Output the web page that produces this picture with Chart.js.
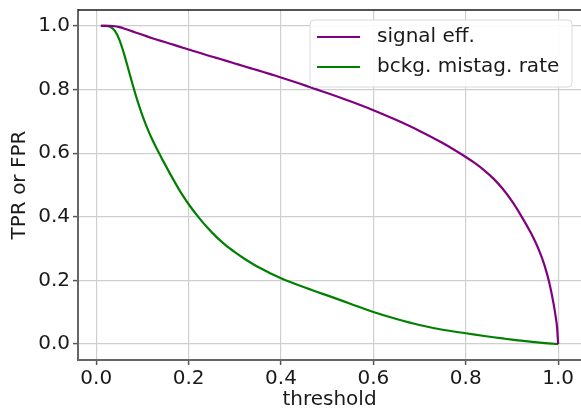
<!DOCTYPE html>
<html>
<head>
<meta charset="utf-8">
<script src="https://cdn.jsdelivr.net/npm/chart.js@4/dist/chart.umd.min.js"></script>
<style>
  html, body { margin: 0; padding: 0; background: #ffffff; overflow: hidden; }
  #wrap { width: 581px; height: 412px; }
</style>
</head>
<body>
<div id="wrap"><canvas id="c" width="581" height="412"></canvas></div>
<script>
// Classifier threshold scan
const thresholds = [0.01,0.02,0.03,0.04,0.05,0.06,0.07,0.08,0.09,0.10,0.11,0.12,0.13,0.14,0.15,0.16,0.17,0.18,0.19,0.20,
  0.22,0.24,0.26,0.28,0.30,0.32,0.34,0.36,0.38,0.40,0.42,0.44,0.46,0.48,0.50,
  0.55,0.60,0.65,0.70,0.75,0.80,0.82,0.84,0.86,0.88,0.90,0.92,0.94,0.95,0.96,0.97,0.98,0.99,0.995,0.998,1.0];

// True positive rate (signal efficiency)
const signalEff = [1.0,1.0,1.0,0.999,0.996,0.992,0.987,0.982,0.977,0.972,0.967,0.962,0.9575,0.953,0.9485,0.944,0.9395,0.935,0.9305,0.926,
  0.917,0.908,0.8995,0.891,0.882,0.873,0.8645,0.856,0.847,0.838,0.8285,0.819,0.809,0.799,0.789,
  0.763,0.735,0.704,0.670,0.632,0.588,0.5685,0.546,0.520,0.488,0.449,0.403,0.352,0.323,0.290,0.250,0.198,0.128,0.083,0.048,0.0];

// False positive rate (background mistag rate)
const bckgMistag = [1.0,1.0,0.997,0.985,0.957,0.913,0.8615,0.8095,0.761,0.718,0.6805,0.647,0.617,0.589,0.5617,0.535,0.509,0.484,0.461,0.4395,
  0.4015,0.367,0.337,0.311,0.289,0.269,0.251,0.235,0.220,0.207,0.195,0.184,0.1735,0.163,0.153,
  0.127,0.101,0.079,0.060,0.045,0.034,0.0297,0.0255,0.0215,0.0177,0.014,0.0108,0.0076,0.006,0.0046,0.0033,0.002,0.001,0.0005,0.0002,0.0];

const seriesLabels = ['signal eff.', 'bckg. mistag. rate'];
const seriesColors = ['#800080', '#008000'];
const tickValues = [0.0, 0.2, 0.4, 0.6, 0.8, 1.0];
const xLabel = 'threshold';
const yLabel = 'TPR or FPR';

const FONT = "'DejaVu Sans', 'Liberation Sans', sans-serif";

function toPoints(xs, ys) { return xs.map((x, i) => ({ x: x, y: ys[i] })); }

// Top spine and the framed legend in the upper right of the plot
const framePlugin = {
  id: 'frame',
  afterDraw(chart) {
    const ctx = chart.ctx;
    const a = chart.chartArea;
    ctx.save();
    ctx.strokeStyle = '#1a1a1a';
    ctx.lineWidth = 1.5;
    ctx.beginPath();
    ctx.moveTo(a.left, a.top);
    ctx.lineTo(a.right, a.top);
    ctx.stroke();

    // legend box
    const bx = 310, by = 20, bw = 262, bh = 67, r = 4;
    ctx.beginPath();
    ctx.moveTo(bx + r, by);
    ctx.lineTo(bx + bw - r, by);
    ctx.quadraticCurveTo(bx + bw, by, bx + bw, by + r);
    ctx.lineTo(bx + bw, by + bh - r);
    ctx.quadraticCurveTo(bx + bw, by + bh, bx + bw - r, by + bh);
    ctx.lineTo(bx + r, by + bh);
    ctx.quadraticCurveTo(bx, by + bh, bx, by + bh - r);
    ctx.lineTo(bx, by + r);
    ctx.quadraticCurveTo(bx, by, bx + r, by);
    ctx.closePath();
    ctx.fillStyle = 'rgba(255,255,255,0.92)';
    ctx.fill();
    ctx.strokeStyle = '#d9d9d9';
    ctx.lineWidth = 1;
    ctx.stroke();

    ctx.font = '20px ' + FONT;
    ctx.textBaseline = 'middle';
    ctx.textAlign = 'left';
    chart.data.datasets.forEach((ds, i) => {
      const yy = 37 + i * 30;
      ctx.strokeStyle = ds.borderColor;
      ctx.lineWidth = 2;
      ctx.beginPath();
      ctx.moveTo(317, yy);
      ctx.lineTo(360, yy);
      ctx.stroke();
      ctx.fillStyle = '#1a1a1a';
      ctx.fillText(ds.label, 377, yy);
    });
    ctx.restore();
  }
};

const setTicks = (scale) => { scale.ticks = tickValues.map(v => ({ value: v })); };

new Chart(document.getElementById('c'), {
  type: 'line',
  data: {
    datasets: [
      { label: seriesLabels[0], data: toPoints(thresholds, signalEff), borderColor: seriesColors[0] },
      { label: seriesLabels[1], data: toPoints(thresholds, bckgMistag), borderColor: seriesColors[1] }
    ]
  },
  options: {
    responsive: false,
    animation: false,
    devicePixelRatio: 1,
    layout: { padding: { top: 10, right: 0, left: 0, bottom: 0 } },
    elements: {
      point: { radius: 0 },
      line: { borderWidth: 2.2, fill: false, cubicInterpolationMode: 'monotone' }
    },
    plugins: { legend: { display: false }, tooltip: { enabled: false } },
    scales: {
      x: {
        type: 'linear',
        min: -0.0395,
        max: 1.0495,
        afterBuildTicks: setTicks,
        afterFit: (s) => { s.height = 52; s.paddingLeft = 0; s.paddingRight = 0; },
        grid: { color: '#cfcfcf', lineWidth: 1.2, drawTicks: true, tickLength: 5, tickColor: '#555555', tickWidth: 1.5 },
        border: { color: '#666666', width: 2 },
        ticks: { color: '#1a1a1a', font: { family: FONT, size: 20 }, padding: 2, maxRotation: 0,
          callback: (v) => Number(v).toFixed(1) },
        title: { display: true, text: xLabel, color: '#1a1a1a', font: { family: FONT, size: 20, lineHeight: 1.2 },
          padding: { top: 0, bottom: 0 } }
      },
      y: {
        type: 'linear',
        min: -0.05,
        max: 1.05,
        afterBuildTicks: setTicks,
        afterFit: (s) => { s.width = 78; s.paddingTop = 0; s.paddingBottom = 0; },
        grid: { color: '#cfcfcf', lineWidth: 1.2, drawTicks: true, tickLength: 5, tickColor: '#555555', tickWidth: 1.5 },
        border: { color: '#666666', width: 2 },
        ticks: { color: '#1a1a1a', font: { family: FONT, size: 20 }, padding: 3,
          callback: (v) => Number(v).toFixed(1) },
        title: { display: true, text: yLabel, color: '#1a1a1a', font: { family: FONT, size: 20, lineHeight: 1.2 },
          padding: { top: 8, bottom: 0 } }
      }
    }
  },
  plugins: [framePlugin]
});
</script>
</body>
</html>
